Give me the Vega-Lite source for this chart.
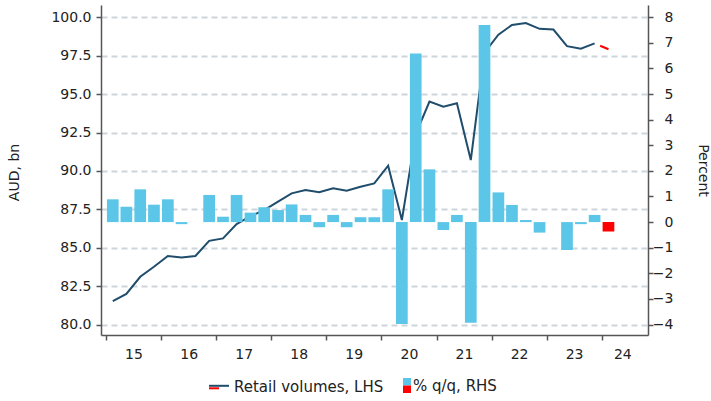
{
  "$schema": "https://vega.github.io/schema/vega-lite/v6.json",
  "width": 547,
  "height": 330,
  "autosize": {"type": "none"},
  "padding": {"left": 101, "top": 5, "right": 63, "bottom": 66},
  "background": "white",
  "config": {
    "font": "DejaVu Sans",
    "view": {"stroke": null},
    "axis": {
      "domainColor": "#555555",
      "domainWidth": 1.5,
      "tickColor": "#555555",
      "tickWidth": 1.5,
      "tickSize": 5,
      "labelFont": "DejaVu Sans",
      "labelFontSize": 14,
      "labelColor": "#222222",
      "titleFont": "DejaVu Sans",
      "titleFontSize": 14,
      "titleFontWeight": "normal",
      "titleColor": "#222222",
      "grid": false
    },
    "legend": {"labelFont": "DejaVu Sans", "labelFontSize": 15, "labelColor": "#222222"}
  },
  "data": {
    "values": [
      {"quarter": "2015-02-15", "volume": 81.53, "qq": 0.89},
      {"quarter": "2015-05-16", "volume": 81.99, "qq": 0.60},
      {"quarter": "2015-08-16", "volume": 83.11, "qq": 1.28},
      {"quarter": "2015-11-15", "volume": 83.76, "qq": 0.68},
      {"quarter": "2016-02-15", "volume": 84.46, "qq": 0.89},
      {"quarter": "2016-05-16", "volume": 84.37, "qq": -0.08},
      {"quarter": "2016-08-16", "volume": 84.46, "qq": 0.0},
      {"quarter": "2016-11-15", "volume": 85.45, "qq": 1.06},
      {"quarter": "2017-02-15", "volume": 85.61, "qq": 0.21},
      {"quarter": "2017-05-16", "volume": 86.54, "qq": 1.06},
      {"quarter": "2017-08-16", "volume": 87.06, "qq": 0.37},
      {"quarter": "2017-11-15", "volume": 87.45, "qq": 0.58},
      {"quarter": "2018-02-15", "volume": 88.0, "qq": 0.47},
      {"quarter": "2018-05-16", "volume": 88.54, "qq": 0.69},
      {"quarter": "2018-08-16", "volume": 88.76, "qq": 0.28},
      {"quarter": "2018-11-15", "volume": 88.61, "qq": -0.2},
      {"quarter": "2019-02-15", "volume": 88.87, "qq": 0.28},
      {"quarter": "2019-05-16", "volume": 88.71, "qq": -0.2},
      {"quarter": "2019-08-16", "volume": 88.97, "qq": 0.19},
      {"quarter": "2019-11-15", "volume": 89.19, "qq": 0.19},
      {"quarter": "2020-02-15", "volume": 90.34, "qq": 1.28},
      {"quarter": "2020-05-16", "volume": 86.8, "qq": -3.98},
      {"quarter": "2020-08-16", "volume": 92.4, "qq": 6.59},
      {"quarter": "2020-11-15", "volume": 94.51, "qq": 2.06},
      {"quarter": "2021-02-15", "volume": 94.18, "qq": -0.31},
      {"quarter": "2021-05-16", "volume": 94.4, "qq": 0.28},
      {"quarter": "2021-08-16", "volume": 90.71, "qq": -3.93},
      {"quarter": "2021-11-15", "volume": 97.7, "qq": 7.7},
      {"quarter": "2022-02-15", "volume": 98.87, "qq": 1.16},
      {"quarter": "2022-05-16", "volume": 99.5, "qq": 0.67},
      {"quarter": "2022-08-16", "volume": 99.63, "qq": 0.08},
      {"quarter": "2022-11-15", "volume": 99.25, "qq": -0.41},
      {"quarter": "2023-02-15", "volume": 99.2, "qq": 0.0},
      {"quarter": "2023-05-16", "volume": 98.12, "qq": -1.09},
      {"quarter": "2023-08-16", "volume": 97.95, "qq": -0.08},
      {"quarter": "2023-11-15", "volume": 98.3, "qq": 0.28, "volume_fc": 98.3},
      {"quarter": "2024-02-15", "volume_fc": 97.92, "qq_fc": -0.37}
    ]
  },
  "encoding": {
    "x": {
      "field": "quarter",
      "type": "temporal",
      "scale": {
        "type": "utc",
        "domain": [
          {"year": 2015, "month": 1, "date": 1, "utc": true},
          {"year": 2024, "month": 10, "date": 1, "utc": true}
        ]
      },
      "axis": {
        "title": null,
        "values": [
          {"year": 2015, "month": 1, "date": 1, "utc": true},
          {"year": 2016, "month": 1, "date": 1, "utc": true},
          {"year": 2017, "month": 1, "date": 1, "utc": true},
          {"year": 2018, "month": 1, "date": 1, "utc": true},
          {"year": 2019, "month": 1, "date": 1, "utc": true},
          {"year": 2020, "month": 1, "date": 1, "utc": true},
          {"year": 2021, "month": 1, "date": 1, "utc": true},
          {"year": 2022, "month": 1, "date": 1, "utc": true},
          {"year": 2023, "month": 1, "date": 1, "utc": true},
          {"year": 2024, "month": 1, "date": 1, "utc": true},
          {"year": 2015, "month": 7, "date": 2, "utc": true},
          {"year": 2016, "month": 7, "date": 2, "utc": true},
          {"year": 2017, "month": 7, "date": 2, "utc": true},
          {"year": 2018, "month": 7, "date": 2, "utc": true},
          {"year": 2019, "month": 7, "date": 2, "utc": true},
          {"year": 2020, "month": 7, "date": 2, "utc": true},
          {"year": 2021, "month": 7, "date": 2, "utc": true},
          {"year": 2022, "month": 7, "date": 2, "utc": true},
          {"year": 2023, "month": 7, "date": 2, "utc": true},
          {"year": 2024, "month": 5, "date": 17, "utc": true}
        ],
        "labelExpr": "utcmonth(datum.value) == 0 ? '' : utcFormat(datum.value, '%y')",
        "tickOpacity": {"condition": {"test": "utcmonth(datum.value) == 0", "value": 1}, "value": 0},
        "tickSize": 5,
        "labelPadding": 7,
        "labelOverlap": false,
        "labelFlush": false,
        "labelBound": false,
        "grid": false
      }
    }
  },
  "layer": [
    {
      "layer": [
        {
          "mark": {"type": "line", "strokeWidth": 2, "interpolate": "linear"},
          "encoding": {
            "y": {
              "field": "volume",
              "type": "quantitative",
              "scale": {"domain": [79.32, 100.8], "nice": false, "zero": false},
              "axis": {
                "orient": "left",
                "values": [80, 82.5, 85, 87.5, 90, 92.5, 95, 97.5, 100],
                "format": ".1f",
                "title": "AUD, bn",
                "grid": true,
                "gridColor": "#cdd5dc",
                "gridDash": [6, 4],
                "gridWidth": 2,
                "tickSize": 5,
                "labelPadding": 5,
                "titleX": -87,
                "titleY": 167,
                "titleAngle": -90,
                "titleAlign": "center",
                "titleBaseline": "middle"
              }
            },
            "stroke": {
              "datum": "Retail volumes, LHS",
              "type": "nominal",
              "scale": {"range": ["#1f4d6b"]},
              "legend": {
                "title": null,
                "orient": "none",
                "legendX": 107,
                "legendY": 371,
                "direction": "horizontal",
                "padding": 0,
                "symbolType": "M-1,-0.12H1",
                "symbolSize": 400,
                "symbolStrokeWidth": 2,
                "labelOffset": 4
              }
            }
          }
        },
        {
          "mark": {"type": "line", "color": "#ff0000", "strokeWidth": 2, "strokeDashOffset": 10},
          "encoding": {
            "y": {
              "field": "volume_fc",
              "type": "quantitative",
              "scale": {"domain": [79.32, 100.8], "nice": false, "zero": false},
              "axis": {
                "orient": "left",
                "values": [80, 82.5, 85, 87.5, 90, 92.5, 95, 97.5, 100],
                "format": ".1f",
                "title": "AUD, bn",
                "grid": true,
                "gridColor": "#cdd5dc",
                "gridDash": [6, 4],
                "gridWidth": 2,
                "tickSize": 5,
                "labelPadding": 5,
                "titleX": -87,
                "titleY": 167,
                "titleAngle": -90,
                "titleAlign": "center",
                "titleBaseline": "middle"
              }
            },
            "strokeDash": {
              "datum": "Retail volumes, forecast",
              "type": "nominal",
              "scale": {"range": [[10, 6]]},
              "legend": {
                "title": null,
                "orient": "none",
                "legendX": 107,
                "legendY": 371,
                "direction": "horizontal",
                "padding": 0,
                "symbolType": "M-1,0.13H0.5",
                "symbolSize": 400,
                "symbolStrokeWidth": 2,
                "symbolStrokeColor": "#ff0000",
                "labelExpr": "''"
              }
            }
          }
        }
      ]
    },
    {
      "layer": [
        {
          "mark": {"type": "bar", "width": 11.7},
          "encoding": {
            "y": {
              "field": "qq",
              "type": "quantitative",
              "scale": {"domain": [-4.41, 8.48], "nice": false, "zero": false},
              "axis": {
                "orient": "right",
                "values": [-4, -3, -2, -1, 0, 1, 2, 3, 4, 5, 6, 7, 8],
                "format": "d",
                "title": "Percent",
                "grid": false,
                "tickSize": 5,
                "labelAlign": "right",
                "labelPadding": 20,
                "titleX": 54,
                "titleY": 165,
                "titleAngle": 90,
                "titleAlign": "center",
                "titleBaseline": "middle"
              }
            },
            "y2": {"datum": 0},
            "fill": {
              "datum": "% q/q, RHS",
              "type": "nominal",
              "scale": {"range": ["#5bc6e8"]},
              "legend": {
                "title": null,
                "orient": "none",
                "legendX": 295,
                "legendY": 373,
                "direction": "horizontal",
                "padding": 0,
                "symbolType": "M-0.07,-1H1V0H-0.07Z",
                "symbolSize": 225,
                "symbolStrokeWidth": 0,
                "labelOffset": 2
              }
            }
          }
        },
        {
          "mark": {"type": "bar", "width": 11.7, "color": "#ff0000"},
          "encoding": {
            "y": {
              "field": "qq_fc",
              "type": "quantitative",
              "scale": {"domain": [-4.41, 8.48], "nice": false, "zero": false},
              "axis": {
                "orient": "right",
                "values": [-4, -3, -2, -1, 0, 1, 2, 3, 4, 5, 6, 7, 8],
                "format": "d",
                "title": "Percent",
                "grid": false,
                "tickSize": 5,
                "labelAlign": "right",
                "labelPadding": 20,
                "titleX": 54,
                "titleY": 165,
                "titleAngle": 90,
                "titleAlign": "center",
                "titleBaseline": "middle"
              }
            },
            "y2": {"datum": 0},
            "opacity": {
              "datum": "% q/q, forecast",
              "type": "ordinal",
              "scale": {"range": [1]},
              "legend": {
                "title": null,
                "orient": "none",
                "legendX": 295,
                "legendY": 373,
                "direction": "horizontal",
                "padding": 0,
                "symbolType": "M-0.07,0H1V1H-0.07Z",
                "symbolSize": 225,
                "symbolFillColor": "#ff0000",
                "symbolStrokeWidth": 0,
                "labelExpr": "''"
              }
            }
          }
        }
      ]
    }
  ],
  "resolve": {"scale": {"y": "independent"}}
}
